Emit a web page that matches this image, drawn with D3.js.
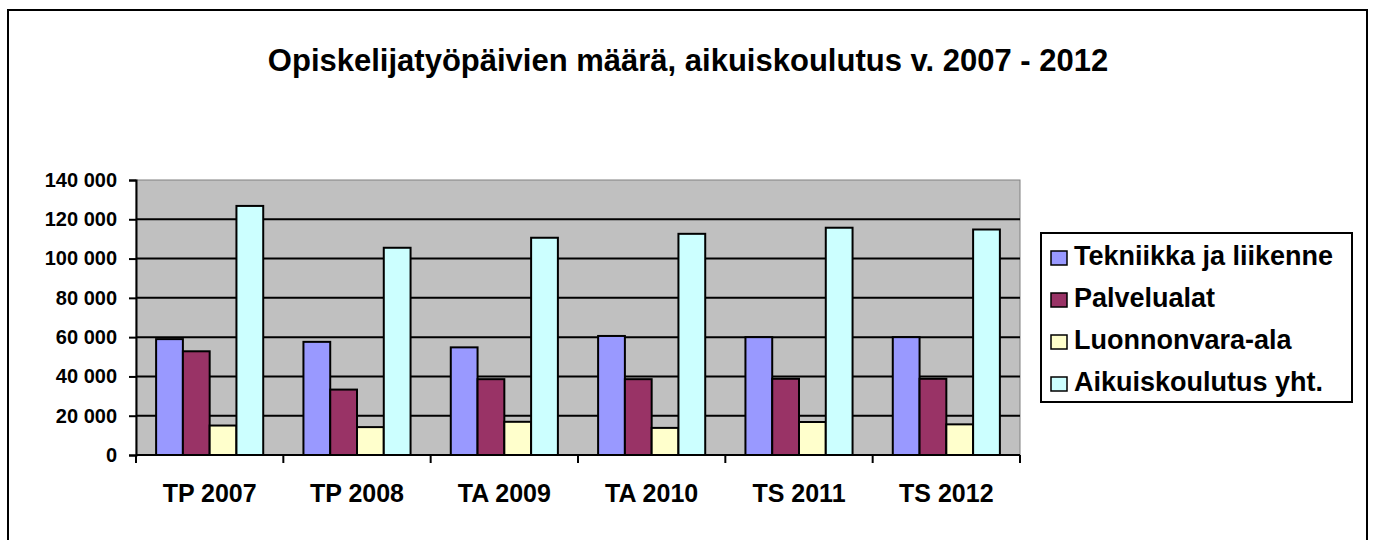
<!DOCTYPE html>
<html>
<head>
<meta charset="utf-8">
<script src="https://cdn.jsdelivr.net/npm/d3@7"></script>
<style>
  body { margin: 0; background: #fff; }
  svg { display: block; font-family: Arial, "Liberation Sans", sans-serif; }
</style>
</head>
<body>
<svg id="chart" width="1375" height="540"></svg>
<script>
// data
const categories = ['TP 2007', 'TP 2008', 'TA 2009', 'TA 2010', 'TS 2011', 'TS 2012'];
const seriesNames = ['Tekniikka ja liikenne', 'Palvelualat', 'Luonnonvara-ala', 'Aikuiskoulutus yht.'];
const tekniikka = [59000, 57600, 54800, 60600, 60000, 60000];
const palvelu = [52800, 33300, 38600, 38600, 38800, 38800];
const luonnonvara = [15000, 14200, 16900, 13800, 16800, 15600];
const yhteensa = [126800, 105500, 110600, 112600, 115700, 114800];
const yTicks = [0, 20000, 40000, 60000, 80000, 100000, 120000, 140000];
const colors = ['#9999FF', '#993366', '#FFFFCC', '#CCFFFF'];

const allSeries = [tekniikka, palvelu, luonnonvara, yhteensa];
const rows = categories.map((c, i) => ({ cat: c, vals: allSeries.map(s => s[i]) }));

const svg = d3.select('#chart');

// outer frame
svg.append('rect')
    .attr('x', 8).attr('y', 10)
    .attr('width', 1359).attr('height', 540)
    .attr('fill', '#fff')
    .attr('stroke', '#000').attr('stroke-width', 2);

svg.append('text')
    .attr('x', 688).attr('y', 71)
    .attr('text-anchor', 'middle')
    .attr('font-size', 31).attr('font-weight', 'bold')
    .text('Opiskelijatyöpäivien määrä, aikuiskoulutus v. 2007 - 2012');

const plot = { left: 136, right: 1020, top: 180, bottom: 455 };

const y = d3.scaleLinear().domain([0, 140000]).range([plot.bottom, plot.top]);
const x0 = d3.scaleBand().domain(categories)
    .range([plot.left, plot.right])
    .paddingInner(0.273).paddingOuter(0.1365);
const x1 = d3.scaleBand().domain(d3.range(4)).range([0, x0.bandwidth()]);

// plot background
svg.append('rect')
    .attr('x', plot.left).attr('y', plot.top)
    .attr('width', plot.right - plot.left).attr('height', plot.bottom - plot.top)
    .attr('fill', '#C0C0C0')
    .attr('stroke', '#808080').attr('stroke-width', 1);

// gridlines
svg.append('g').selectAll('line')
    .data(yTicks.slice(1, -1))
    .join('line')
    .attr('x1', plot.left).attr('x2', plot.right)
    .attr('y1', d => y(d)).attr('y2', d => y(d))
    .attr('stroke', '#000').attr('stroke-width', 2);

// y axis
const fmt = v => d3.format(',')(v).replace(/,/g, ' ');
const yAxis = svg.append('g')
    .attr('transform', `translate(${plot.left},0)`)
    .call(d3.axisLeft(y).tickValues(yTicks).tickFormat(fmt).tickSize(7).tickPadding(12));
yAxis.select('.domain').attr('stroke', '#000').attr('stroke-width', 2);
yAxis.selectAll('.tick line').attr('stroke', '#000').attr('stroke-width', 2);
yAxis.selectAll('text')
    .attr('font-size', 20).attr('font-weight', 'bold')
    .attr('font-family', 'Arial, "Liberation Sans", sans-serif')
    .attr('fill', '#000');

// bars
svg.append('g').selectAll('g')
    .data(rows)
    .join('g')
    .attr('transform', d => `translate(${x0(d.cat)},0)`)
    .selectAll('rect')
    .data(d => d.vals)
    .join('rect')
    .attr('x', (d, i) => x1(i))
    .attr('y', d => y(d))
    .attr('width', x1.bandwidth())
    .attr('height', d => plot.bottom - y(d))
    .attr('fill', (d, i) => colors[i])
    .attr('stroke', '#000').attr('stroke-width', 2);

// x axis
const xPos = d3.scalePoint().domain(d3.range(categories.length + 1)).range([plot.left, plot.right]);
svg.append('line')
    .attr('x1', plot.left).attr('x2', plot.right)
    .attr('y1', plot.bottom).attr('y2', plot.bottom)
    .attr('stroke', '#000').attr('stroke-width', 2);
svg.append('g').selectAll('line')
    .data(d3.range(categories.length + 1))
    .join('line')
    .attr('x1', d => xPos(d)).attr('x2', d => xPos(d))
    .attr('y1', plot.bottom).attr('y2', plot.bottom + 8)
    .attr('stroke', '#000').attr('stroke-width', 2);
svg.append('g').selectAll('text')
    .data(categories)
    .join('text')
    .attr('x', d => x0(d) + x0.bandwidth() / 2)
    .attr('y', 502)
    .attr('text-anchor', 'middle')
    .attr('font-size', 25).attr('font-weight', 'bold')
    .text(d => d);

// legend
const legend = svg.append('g');
legend.append('rect')
    .attr('x', 1041).attr('y', 233)
    .attr('width', 311).attr('height', 169)
    .attr('fill', '#fff')
    .attr('stroke', '#000').attr('stroke-width', 2);
const items = legend.selectAll('g.item')
    .data(seriesNames)
    .join('g')
    .attr('class', 'item')
    .attr('transform', (d, i) => `translate(1051,${258 + i * 42})`);
items.append('rect')
    .attr('x', 0).attr('y', -7)
    .attr('width', 16).attr('height', 14)
    .attr('fill', (d, i) => colors[i])
    .attr('stroke', '#000').attr('stroke-width', 1.5);
items.append('text')
    .attr('x', 23).attr('y', 6)
    .attr('dy', '0.02em')
    .attr('font-size', 27).attr('font-weight', 'bold')
    .text(d => d);
</script>
</body>
</html>
